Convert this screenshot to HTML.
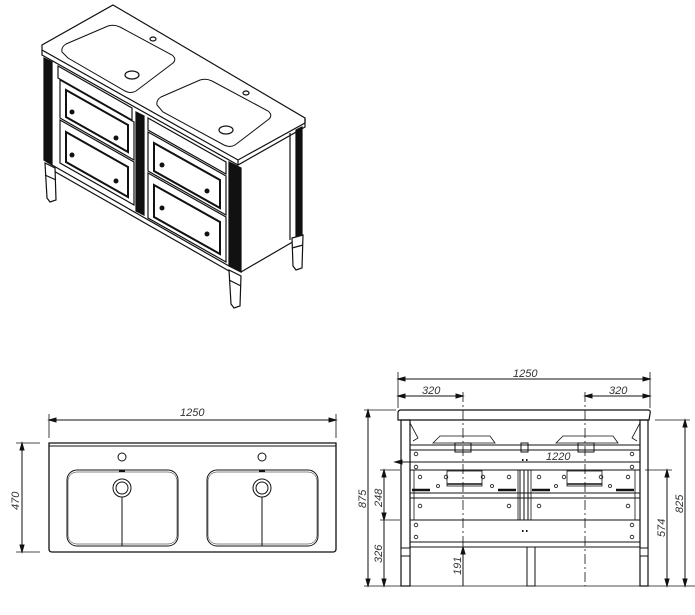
<!DOCTYPE html>
<html><head><meta charset="utf-8"><style>
html,body{margin:0;padding:0;background:#fff;width:695px;height:615px;overflow:hidden}
svg{display:block}
text{font-family:"Liberation Sans",sans-serif;font-style:italic;font-size:11px;fill:#333;stroke:none}
</style></head><body>
<svg width="695" height="615" viewBox="0 0 695 615" xmlns="http://www.w3.org/2000/svg" fill="none" stroke="#111" stroke-width="1">
<!-- ISOMETRIC -->
<g stroke-width="1.2">
<polygon points="113,5 305,118 305,123 238,160 42,50 42,45" fill="#fff"/>
<polyline points="42,50 42,55 238,165 305,127 305,118"/>
<line x1="238" y1="160" x2="238" y2="165"/>
<path d="M62,52 Q61,47 66,44 L108,26 Q114,24 120,27 L172,55 Q177,59 173,63 L136,91 Q131,94 125,91 L68,58 Z" stroke-width="1"/>
<path d="M157,105 Q156,100 161,97 L200,80 Q206,78 212,81 L268,111 Q273,115 269,119 L235,145 Q230,148 224,145 L163,112 Z" stroke-width="1"/>
<ellipse cx="132" cy="75" rx="7" ry="4"/><ellipse cx="226" cy="130" rx="7" ry="4"/>
<ellipse cx="153" cy="39" rx="3" ry="2"/><ellipse cx="246" cy="93" rx="3" ry="2"/>
<polygon points="44,58 52,62 52,165 44,160" fill="#111"/>
<polygon points="229,162 241,168 241,272 229,266" fill="#111"/>
<polygon points="296,130 302,127 302,237 296,240" fill="#111"/>
<polygon points="136,112 144,116 144,215 136,211" fill="#111"/>
<line x1="52" y1="165" x2="229" y2="266"/>
<line x1="52" y1="170" x2="229" y2="271"/>
<polyline points="241,272 296,240"/>
<line x1="290" y1="133" x2="290" y2="240"/>
<polygon points="58,66 132,108 132,120 58,78" />
<polygon points="60,80 134,122 134,160 60,118" />
<polygon points="66,90 128,125 128,152 66,117" stroke-width="2"/>
<polygon points="60,120 134,162 134,205 60,163" />
<polygon points="66,132 128,167 128,197 66,162" stroke-width="2"/>
<polygon points="148,118 226,162 226,174 148,130" />
<polygon points="148,132 226,176 226,215 148,171" />
<polygon points="154,143 220,180 220,208 154,171" stroke-width="2"/>
<polygon points="148,173 226,217 226,262 148,218" />
<polygon points="154,185 220,222 220,254 154,217" stroke-width="2"/>
<g fill="#111" stroke="none">
<circle cx="72" cy="112" r="2.5"/><circle cx="116" cy="138" r="2.5"/>
<circle cx="72" cy="155" r="2.5"/><circle cx="116" cy="181" r="2.5"/>
<circle cx="162" cy="165" r="2.5"/><circle cx="207" cy="191" r="2.5"/>
<circle cx="162" cy="208" r="2.5"/><circle cx="207" cy="234" r="2.5"/>
</g>
<polygon points="45,163 55,168 56,200 50,202 47,198" fill="#fff"/>
<line x1="45" y1="175" x2="56" y2="180"/>
<polygon points="229,270 241,276 240,306 234,308 231,304" fill="#fff"/>
<line x1="229" y1="280" x2="241" y2="286"/>
<polygon points="292,238 303,235 302,268 296,270 293,266" fill="#fff"/>
<line x1="292" y1="248" x2="303" y2="245"/>
</g>

<!-- TOP VIEW -->
<g>
<line x1="49" y1="414" x2="49" y2="438" stroke-width="0.8"/>
<line x1="336" y1="414" x2="336" y2="438" stroke-width="0.8"/>
<line x1="49" y1="420" x2="336" y2="420"/>
<polygon points="49,420 56,418 56,422" fill="#111"/><polygon points="336,420 329,418 329,422" fill="#111"/>
<text x="180" y="416">1250</text>
<line x1="16" y1="443" x2="40" y2="443" stroke-width="0.8"/>
<line x1="16" y1="552" x2="40" y2="552" stroke-width="0.8"/>
<line x1="22" y1="443" x2="22" y2="552"/>
<polygon points="22,443 20,450 24,450" fill="#111"/><polygon points="22,552 20,545 24,545" fill="#111"/>
<text transform="translate(19,510) rotate(-90)">470</text>
<path d="M49,443 H336 V549 Q336,552 333,552 H52 Q49,552 49,549 Z" stroke-width="1.3"/>
<line x1="49" y1="446" x2="336" y2="446"/>
<rect x="67" y="470" width="111" height="76" rx="10"/>
<rect x="68" y="472" width="109" height="72" rx="9" stroke-width="0.5"/>
<rect x="207" y="470" width="111" height="76" rx="10"/>
<rect x="208" y="472" width="109" height="72" rx="9" stroke-width="0.5"/>
<circle cx="122" cy="488" r="9"/><circle cx="122" cy="488" r="6"/>
<circle cx="262" cy="488" r="9"/><circle cx="262" cy="488" r="6"/>
<circle cx="122" cy="457" r="4"/><circle cx="262" cy="457" r="4"/>
<line x1="122" y1="497" x2="122" y2="546"/><line x1="262" y1="497" x2="262" y2="546"/>
<line x1="119" y1="471" x2="125" y2="471" stroke-width="2"/><line x1="259" y1="471" x2="265" y2="471" stroke-width="2"/>
</g>

<!-- FRONT VIEW -->
<g>
<line x1="398" y1="372" x2="398" y2="408" stroke-width="0.8"/>
<line x1="650" y1="372" x2="650" y2="408" stroke-width="0.8"/>
<line x1="398" y1="379" x2="650" y2="379"/>
<polygon points="398,379 405,377 405,381" fill="#111"/><polygon points="650,379 643,377 643,381" fill="#111"/>
<text x="513" y="377">1250</text>
<line x1="398" y1="396" x2="463" y2="396"/><line x1="585" y1="396" x2="650" y2="396"/>
<polygon points="398,396 405,394 405,398" fill="#111"/><polygon points="463,396 456,394 456,398" fill="#111"/>
<polygon points="585,396 592,394 592,398" fill="#111"/><polygon points="650,396 643,394 643,398" fill="#111"/>
<text x="422" y="394">320</text><text x="609" y="394">320</text>
<line x1="463" y1="392" x2="463" y2="586" stroke-dasharray="10,3,2,3" stroke-width="0.8"/>
<line x1="585" y1="392" x2="585" y2="586" stroke-dasharray="10,3,2,3" stroke-width="0.8"/>
<line x1="364" y1="410" x2="396" y2="410" stroke-width="0.8"/>
<line x1="364" y1="586" x2="696" y2="586" stroke-width="0.8"/>
<line x1="368" y1="410" x2="368" y2="586"/>
<polygon points="368,410 366,417 370,417" fill="#111"/><polygon points="368,586 366,579 370,579" fill="#111"/>
<text transform="translate(366,508) rotate(-90)">875</text>
<line x1="380" y1="470" x2="400" y2="470" stroke-width="0.8"/>
<line x1="380" y1="520" x2="400" y2="520" stroke-width="0.8"/>
<line x1="384" y1="470" x2="384" y2="586"/>
<polygon points="384,470 382,477 386,477" fill="#111"/><polygon points="384,586 382,579 386,579" fill="#111"/>
<polygon points="384,520 382,513 386,513" fill="#111"/>
<text transform="translate(382,507) rotate(-90)">248</text>
<text transform="translate(382,563) rotate(-90)">326</text>
<line x1="463" y1="547" x2="463" y2="586"/>
<polygon points="463,547 461,554 465,554" fill="#111"/>
<text transform="translate(461,575) rotate(-90)">191</text>
<line x1="655" y1="420" x2="690" y2="420" stroke-width="0.8"/>
<line x1="645" y1="470" x2="672" y2="470" stroke-width="0.8"/>
<line x1="667" y1="470" x2="667" y2="586"/>
<polygon points="667,470 665,477 669,477" fill="#111"/><polygon points="667,586 665,579 669,579" fill="#111"/>
<text transform="translate(665,537) rotate(-90)">574</text>
<line x1="685" y1="420" x2="685" y2="586"/>
<polygon points="685,420 683,427 687,427" fill="#111"/><polygon points="685,586 683,579 687,579" fill="#111"/>
<text transform="translate(683,513) rotate(-90)">825</text>
<line x1="395" y1="462" x2="640" y2="462"/>
<polygon points="395,462 402,460 402,464" fill="#111"/>
<text x="546" y="460">1220</text>
<path d="M398,413 Q398,410 401,410 H648 Q651,410 650,414 L649,420 H398 Z" stroke-width="1.2"/>
<rect x="401" y="420" width="9" height="166" stroke-width="1.2"/>
<rect x="640" y="420" width="8" height="166" stroke-width="1.2"/>
<rect x="401" y="548" width="9" height="8" fill="#fff"/><rect x="640" y="548" width="8" height="8" fill="#fff"/>
<path d="M410,423 L418,438 L413,441" stroke-width="0.8"/><path d="M640,423 L632,438 L637,441" stroke-width="0.8"/>
<path d="M433,443 L440,436 H490 L495,443 Z" stroke-width="0.8"/>
<path d="M556,443 L563,436 H613 L618,443 Z" stroke-width="0.8"/>
<rect x="455" y="443" width="16" height="9"/><rect x="578" y="443" width="16" height="9"/>
<rect x="521" y="443" width="7" height="9"/>
<line x1="410" y1="445" x2="640" y2="445"/><line x1="410" y1="450" x2="640" y2="450"/>
<line x1="410" y1="470" x2="640" y2="470"/>
<line x1="410" y1="493" x2="640" y2="493"/><line x1="410" y1="498" x2="640" y2="498"/>
<line x1="410" y1="520" x2="640" y2="520"/>
<line x1="410" y1="542" x2="640" y2="542"/><line x1="410" y1="547" x2="640" y2="547"/>
<rect x="414" y="470" width="104" height="50" stroke-width="0.8"/>
<rect x="531" y="470" width="104" height="50" stroke-width="0.8"/>
<line x1="520" y1="470" x2="520" y2="520"/><line x1="524" y1="470" x2="524" y2="520"/><line x1="528" y1="470" x2="528" y2="520"/>
<rect x="447" y="471" width="35" height="15" stroke-width="0.8"/><rect x="567" y="471" width="35" height="15" stroke-width="0.8"/>
<line x1="447" y1="484" x2="482" y2="484" stroke-width="1.5"/><line x1="567" y1="484" x2="602" y2="484" stroke-width="1.5"/>
<rect x="527" y="547" width="8" height="39"/>
<g stroke-width="0.8">
<circle cx="416" cy="454" r="1.8"/><circle cx="632" cy="454" r="1.8"/>
<circle cx="416" cy="467" r="1.8"/><circle cx="632" cy="467" r="1.8"/>
<circle cx="420" cy="477" r="1.8"/><circle cx="446" cy="477" r="1.8"/><circle cx="483" cy="477" r="1.8"/><circle cx="509" cy="477" r="1.8"/>
<circle cx="539" cy="477" r="1.8"/><circle cx="564" cy="477" r="1.8"/><circle cx="601" cy="477" r="1.8"/><circle cx="628" cy="477" r="1.8"/>
<circle cx="438" cy="486" r="1.5"/><circle cx="492" cy="486" r="1.5"/><circle cx="556" cy="486" r="1.5"/><circle cx="610" cy="486" r="1.5"/>
<circle cx="420" cy="506" r="1.8"/><circle cx="509" cy="506" r="1.8"/><circle cx="539" cy="506" r="1.8"/><circle cx="628" cy="506" r="1.8"/>
<circle cx="416" cy="525" r="1.8"/><circle cx="632" cy="525" r="1.8"/>
<circle cx="416" cy="537" r="1.8"/><circle cx="632" cy="537" r="1.8"/>
</g>
<path d="M412,490 H430 M498,490 H516 M532,490 H550 M616,490 H634" stroke-width="2.5"/>
<g fill="#111" stroke="none"><rect x="522" y="459" width="1.5" height="2"/><rect x="526" y="459" width="1.5" height="2"/><rect x="522" y="530" width="1.5" height="2"/><rect x="526" y="530" width="1.5" height="2"/></g>
</g>
</svg>
</body></html>
